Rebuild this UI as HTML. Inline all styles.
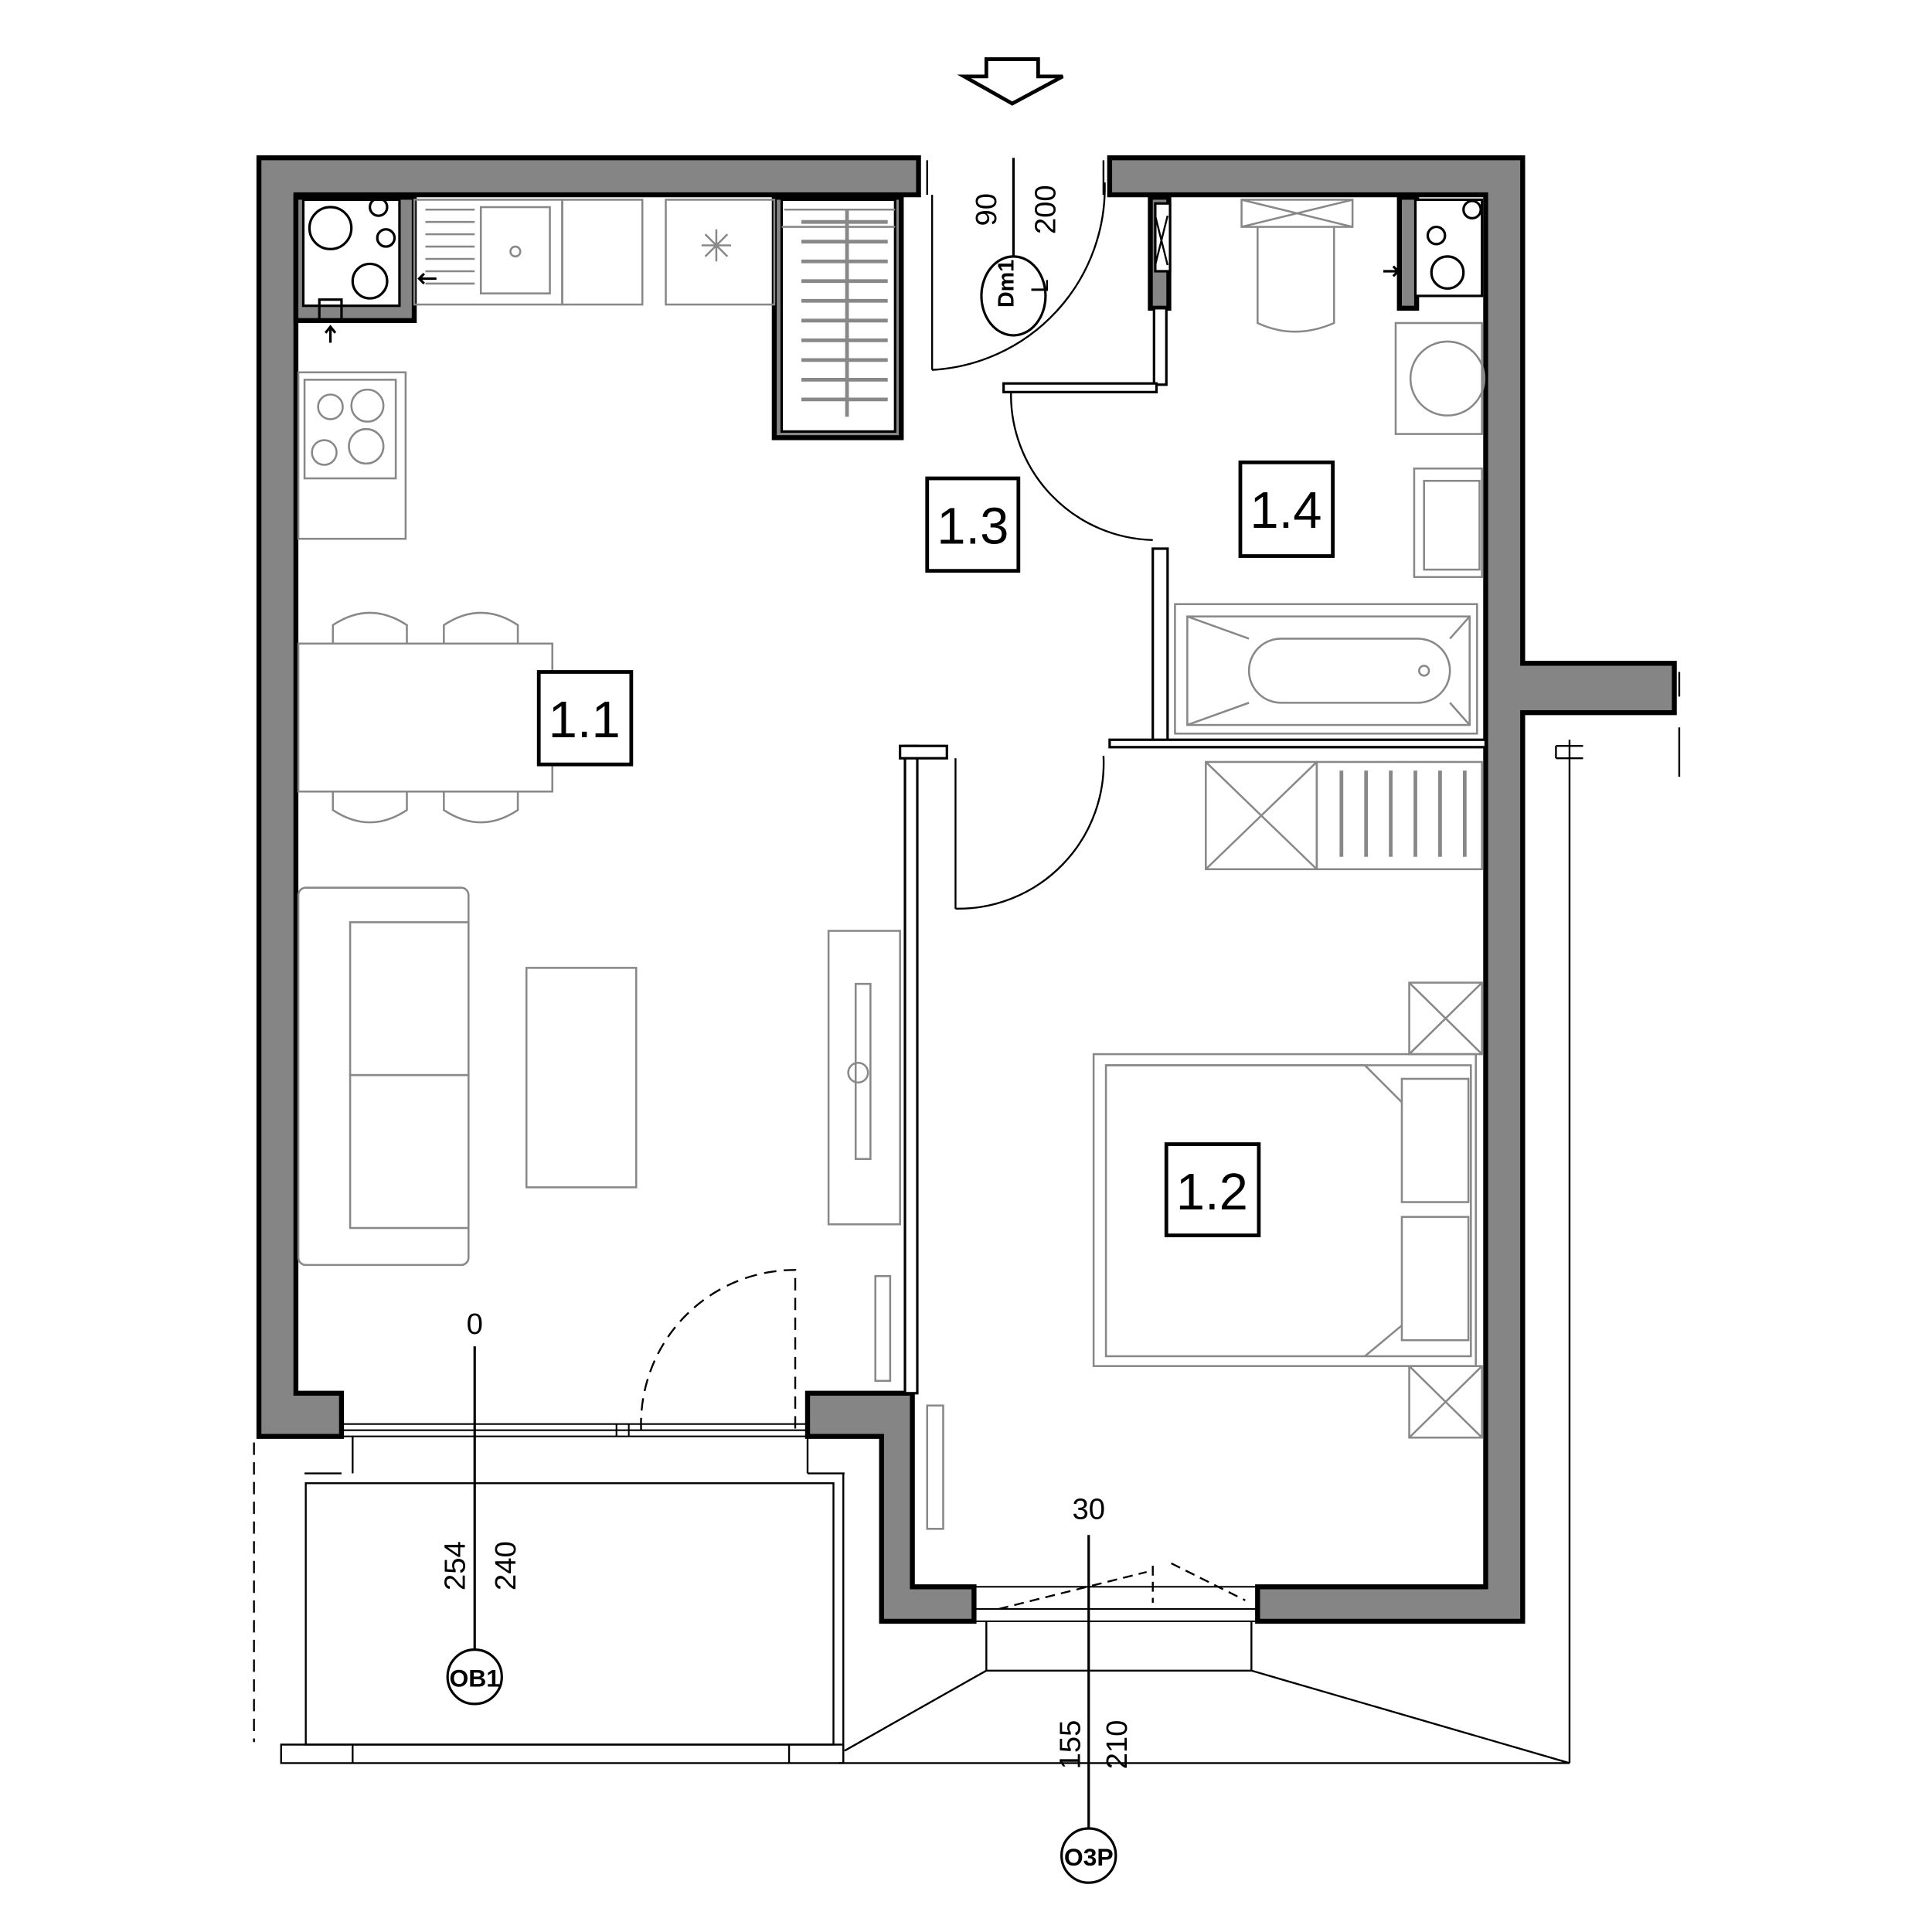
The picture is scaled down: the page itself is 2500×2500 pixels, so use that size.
<!DOCTYPE html>
<html><head><meta charset="utf-8"><style>
html,body{margin:0;padding:0;background:#fff}
svg{display:block}
text{font-family:"Liberation Sans",sans-serif}
</style></head><body>
<svg width="2500" height="2500" viewBox="0 0 1567 1567" xmlns="http://www.w3.org/2000/svg">
<rect width="1567" height="1567" fill="#fff"/>
<polygon points="800,48 842,48 842,62 862,62 821,84 782,62 800,62" fill="none" stroke="#000" stroke-width="3"/>
<g fill="#858585" stroke="#000" stroke-width="4">
<polygon points="210,128 745,128 745,158 240,158 240,1130 277,1130 277,1165 210,1165"/>
<polygon points="900,128 1235,128 1235,538 1358,538 1358,578 1235,578 1235,1315 1020,1315 1020,1287 1205,1287 1205,158 900,158"/>
<polygon points="655,1130 740,1130 740,1287 790,1287 790,1315 715,1315 715,1165 655,1165"/>
<rect x="933" y="160" width="15" height="90"/>
<rect x="1135" y="160" width="14" height="90"/>
<rect x="240" y="160" width="96" height="100"/>
<rect x="628" y="160" width="103" height="195"/>
</g>
<g fill="#fff" stroke="#000" stroke-width="2">
<rect x="246" y="162" width="78" height="86"/>
<rect x="634" y="162" width="92" height="188"/>
<rect x="1148" y="162" width="54" height="78"/>
<rect x="937" y="165" width="12" height="55"/>
<rect x="936" y="250" width="10" height="62"/>
<rect x="935" y="445" width="12" height="158"/>
<rect x="900" y="600" width="305" height="6"/>
<rect x="734" y="605" width="10" height="525"/>
<rect x="730" y="605" width="38" height="10"/>
<rect x="814" y="311" width="124" height="7"/>
</g>
<path d="M937,175 L947,215 M947,175 L937,215" stroke="#000" stroke-width="1.5"/>
<g fill="none" stroke="#000" stroke-width="2">
<circle cx="268" cy="185" r="17"/><circle cx="300" cy="228" r="14"/>
<circle cx="307" cy="168" r="7"/><circle cx="313" cy="193" r="7"/>
<circle cx="1194" cy="170" r="7"/><circle cx="1174" cy="221" r="13"/><circle cx="1165" cy="191" r="7"/>
<rect x="259" y="243" width="18" height="17"/>
<path d="M268,278 v-12 M264,270 l4,-5 4,5 M340,226 h14 M344,222 l-4,4 4,4 M1122,220 h12 M1130,216 l4,4 -4,4"/>
</g>
<g fill="none" stroke="#888" stroke-width="1.6">
<rect x="336" y="162" width="120" height="85"/><rect x="390" y="168" width="56" height="70"/><circle cx="418" cy="204" r="4"/>
<rect x="456" y="162" width="65" height="85"/><rect x="540" y="162" width="88" height="85"/>
<path d="M572,190 l18,18 M590,190 l-18,18 M581,186 v26 M569,199 h24"/>
<path d="M345,170 h40 M345,180 h40 M345,190 h40 M345,200 h40 M345,210 h40 M345,220 h40 M345,230 h40"/>
<rect x="242" y="302" width="87" height="135"/><rect x="247" y="308" width="74" height="80"/>
<circle cx="268" cy="330" r="10"/><circle cx="298" cy="329" r="13"/><circle cx="263" cy="367" r="10"/><circle cx="297" cy="362" r="14"/>
<rect x="242" y="522" width="206" height="120"/>
<path d="M270,522 v-15 q30,-20 60,0 v15 M360,522 v-15 q30,-20 60,0 v15 M270,642 v15 q30,20 60,0 v-15 M360,642 v15 q30,20 60,0 v-15"/>
<rect x="242" y="720" width="138" height="306" rx="6"/><rect x="284" y="748" width="96" height="124"/><rect x="284" y="872" width="96" height="124"/>
<rect x="427" y="785" width="89" height="178"/>
<rect x="672" y="755" width="58" height="238"/><rect x="694" y="798" width="12" height="142"/><circle cx="696" cy="870" r="8"/>
<rect x="710" y="1035" width="12" height="85"/><rect x="752" y="1140" width="13" height="100"/>
<path d="M636,170 h90 M634,184 h92" />
<path d="M650,180 h70 M650,196 h70 M650,212 h70 M650,228 h70 M650,244 h70 M650,260 h70 M650,276 h70 M650,292 h70 M650,308 h70 M650,324 h70 M687,170 v168" stroke="#888" stroke-width="3"/>
<rect x="1007" y="162" width="90" height="22"/><path d="M1007,162 l90,22 M1097,162 l-90,22"/>
<path d="M1020,184 v78 q30,14 62,0 v-78"/>
<rect x="1132" y="262" width="70" height="90"/><circle cx="1174" cy="307" r="30"/>
<rect x="1147" y="380" width="55" height="88"/><rect x="1155" y="390" width="45" height="72"/>
<rect x="953" y="490" width="245" height="105"/><rect x="963" y="500" width="229" height="88"/>
<rect x="1013" y="518" width="163" height="52" rx="26"/><path d="M963,500 l50,18 M963,588 l50,-18 M1192,500 l-16,18 M1192,588 l-16,-18"/><circle cx="1155" cy="544" r="4"/>
<rect x="978" y="618" width="90" height="87"/><path d="M978,618 l90,87 M1068,618 l-90,87"/>
<rect x="1068" y="618" width="134" height="87"/>
<path d="M1088,625 v70 M1108,625 v70 M1128,625 v70 M1148,625 v70 M1168,625 v70 M1188,625 v70" stroke-width="3"/>
<rect x="887" y="855" width="310" height="253"/><rect x="897" y="864" width="296" height="236"/>
<rect x="1137" y="875" width="54" height="100"/><rect x="1137" y="987" width="54" height="100"/>
<path d="M897,864 h210 l30,30 M1137,1075 l-30,25"/>
<rect x="1143" y="797" width="59" height="58"/><path d="M1143,797 l59,58 M1202,797 l-59,58"/>
<rect x="1143" y="1108" width="59" height="58"/><path d="M1143,1108 l59,58 M1202,1108 l-59,58"/>
</g>
<g fill="none" stroke="#000" stroke-width="1.5">
<path d="M756,300 A148,148 0 0 0 896,148 M756,158 v142 M752,130 v28 M895,130 v28"/>
<path d="M820,318 A118,118 0 0 0 935,438"/>
<path d="M775,737 A118,118 0 0 0 895,613 M775,615 v122"/>
<path d="M520,1160 A125,125 0 0 1 645,1030 v130" stroke-dasharray="10,6"/>
<path d="M810,1305 l120,-30 M950,1268 l60,30 M935,1270 v30" stroke-dasharray="8,5"/>
</g>
<g fill="none" stroke="#000" stroke-width="1.3">
<rect x="277" y="1155" width="378" height="10"/><path d="M277,1160 h378 M500,1155 v10 M510,1155 v10"/>
<rect x="790" y="1287" width="230" height="28"/><path d="M790,1305 h230"/>
</g>
<g fill="none" stroke="#000" stroke-width="1.5">
<rect x="248" y="1203" width="428" height="212"/>
<path d="M228,1415 h456 v15 h-456 z M286,1415 v15 M640,1415 v15"/>
<path d="M286,1165 v30 M655,1165 v30 M684,1195 v235 M277,1195 h-30 M655,1195 h30"/>
<path d="M206,1170 v243" stroke-dasharray="10,6"/>
<path d="M800,1315 v40 h215 v-40 M800,1355 l-115,65 M1015,1355 l258,75 M680,1430 h593 M1273,600 v830 M1262,605 h22 M1262,615 h22 M1262,605 v10"/>
<path d="M1362,545 v20 M1362,590 v40"/>
</g>
<g fill="#fff" stroke="#000" stroke-width="3">
<rect x="437" y="545" width="75" height="75"/><rect x="752" y="388" width="74" height="75"/>
<rect x="1006" y="375" width="75" height="76"/><rect x="946" y="928" width="75" height="74"/>
</g>
<g font-size="42" text-anchor="middle" font-family="Liberation Sans Narrow, Liberation Sans, sans-serif">
<text x="474" y="598">1.1</text><text x="789" y="441">1.3</text><text x="1043" y="428">1.4</text><text x="983" y="981">1.2</text>
</g>
<g fill="none" stroke="#000" stroke-width="2">
<path d="M822,128 v86 M385,1092 v248 M883,1245 v240"/>
<ellipse cx="822" cy="240" rx="26" ry="32" fill="#fff"/>
<circle cx="385" cy="1360" r="22" fill="#fff"/><circle cx="883" cy="1505" r="22" fill="#fff"/>
</g>
<g font-size="24" text-anchor="middle">
<text transform="translate(808,170) rotate(-90)">90</text>
<text transform="translate(856,170) rotate(-90)">200</text>
<text transform="translate(822,230) rotate(-90)" font-size="18" font-weight="bold">Dm1</text>
<text transform="translate(850,232) rotate(-90)" font-size="20">L</text>
<text x="385" y="1082">0</text><text x="883" y="1232">30</text>
<text transform="translate(377,1270) rotate(-90)">254</text>
<text transform="translate(418,1270) rotate(-90)">240</text>
<text transform="translate(876,1415) rotate(-90)">155</text>
<text transform="translate(914,1415) rotate(-90)">210</text>
<text x="385" y="1368" font-size="20" font-weight="bold">OB1</text>
<text x="883" y="1513" font-size="20" font-weight="bold">O3P</text>
</g>
</svg>
</body></html>
